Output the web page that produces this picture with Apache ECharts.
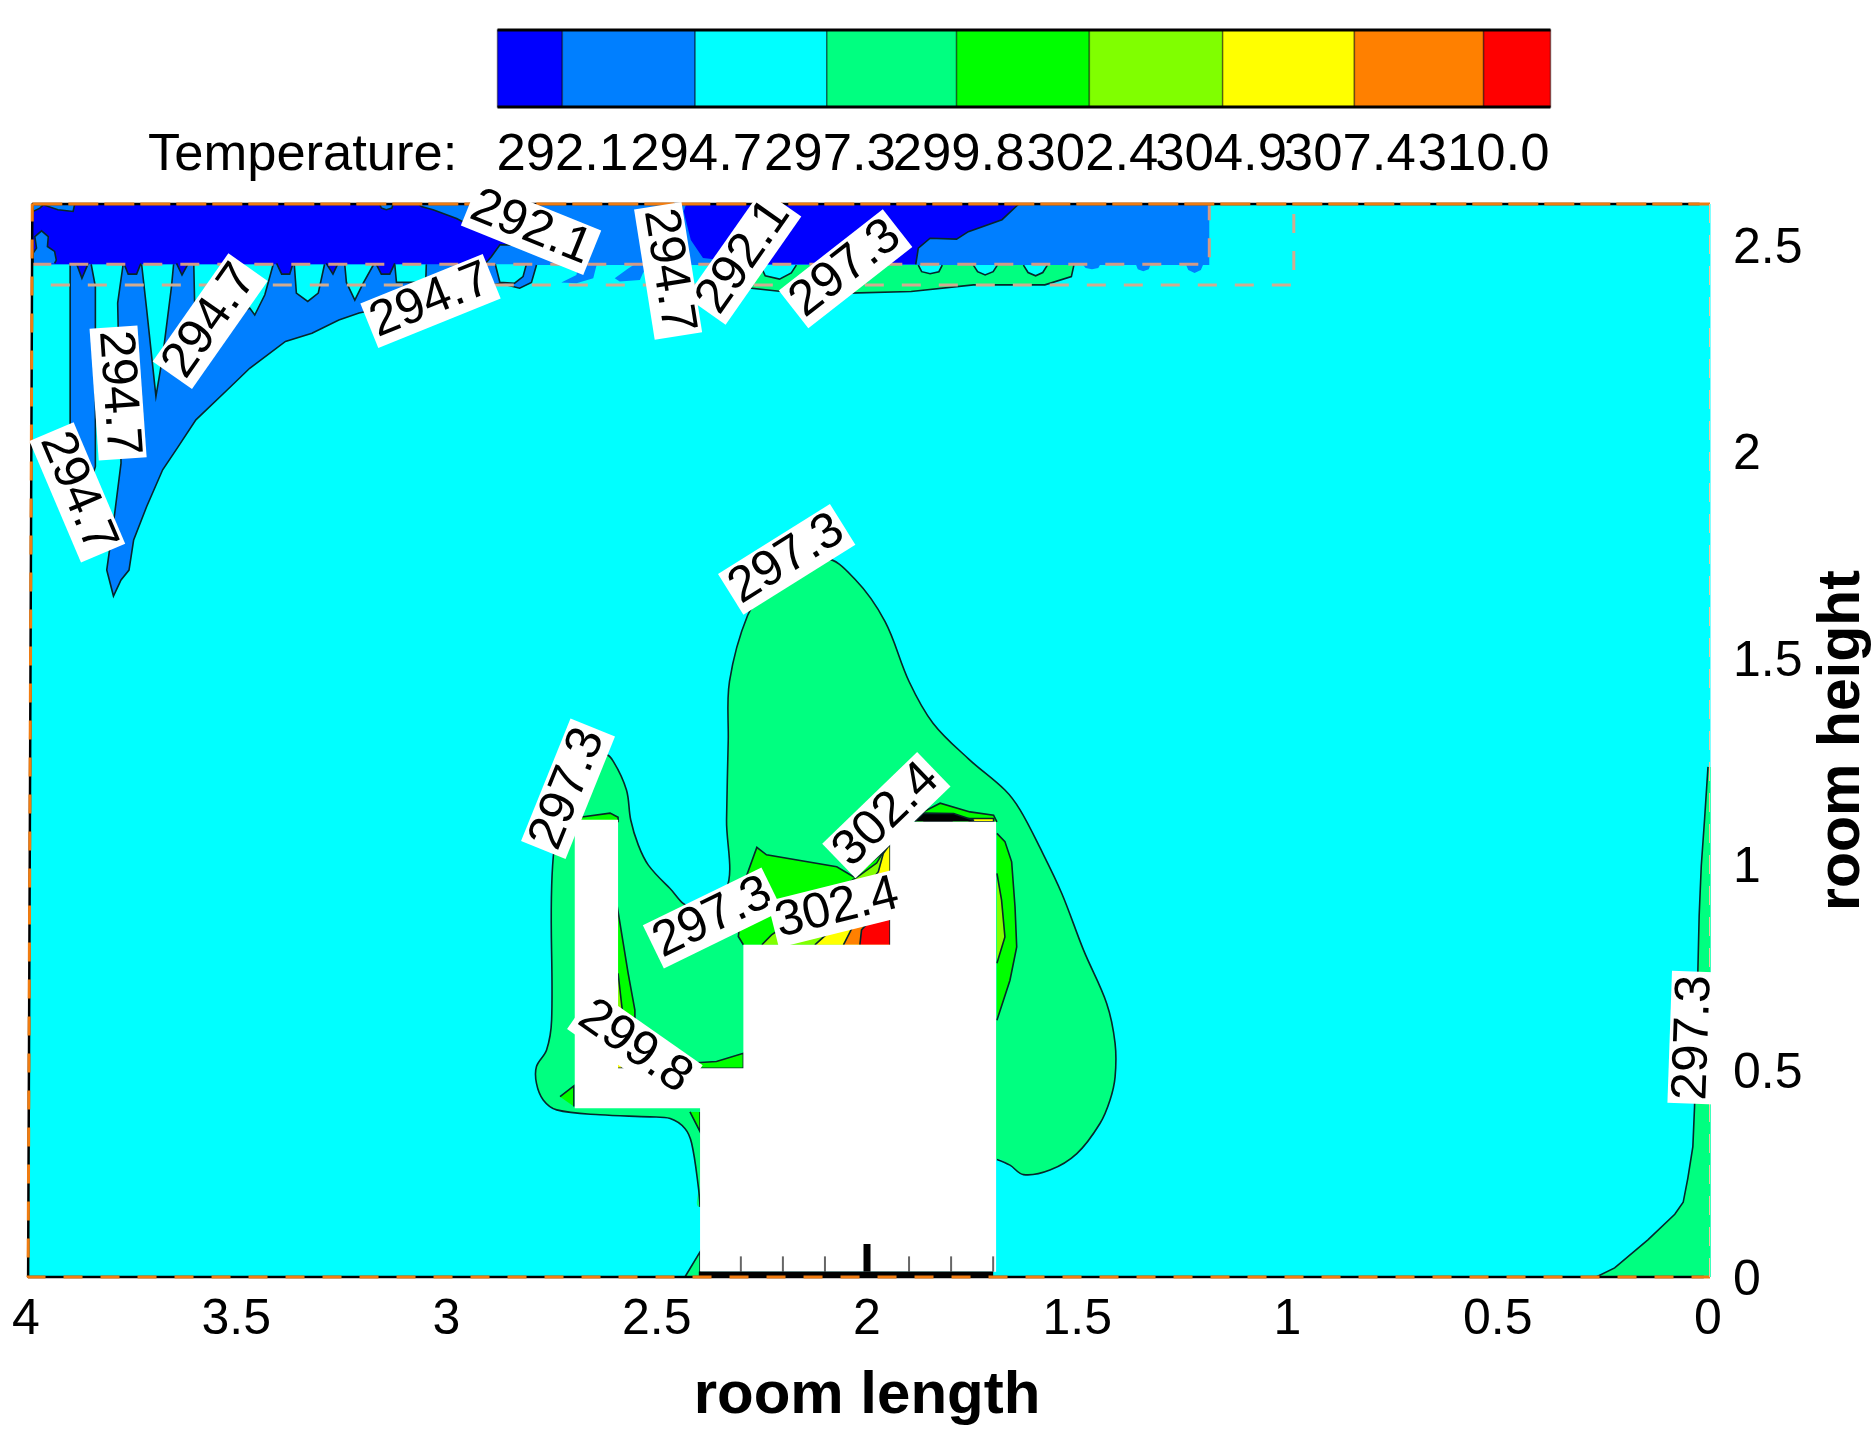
<!DOCTYPE html>
<html>
<head>
<meta charset="utf-8">
<title>room temperature</title>
<script src="https://cdn.jsdelivr.net/npm/echarts@6/dist/echarts.min.js"></script>
<style>
  html, body { margin: 0; padding: 0; background: #fff; }
  #chart { width: 1875px; height: 1446px; }
</style>
</head>
<body>
<div id="chart"></div>
<script>
// axis ticks
var xTicks = [4, 3.5, 3, 2.5, 2, 1.5, 1, 0.5, 0]
var yTicks = [0, 0.5, 1, 1.5, 2, 2.5]
var innerTicks = [2.3, 2.2, 2.1, 1.9, 1.8, 1.7]
var innerMajorTicks = [2]

// colour bar
var levels = [292.1, 294.7, 297.3, 299.8, 302.4, 304.9, 307.4, 310.0]
var bandEdges = [290.84, 292.1, 294.68, 297.24, 299.76, 302.34, 304.93, 307.49, 310.0, 311.3]
var bandColors = ['#0000ff', '#007fff', '#00ffff', '#00ff80', '#00ff00', '#80ff00', '#ffff00', '#ff8000', '#ff0000']

// contour outlines, [room length, room height]
var room = [[-0.006, 0], [-0.006, 2.6], [3.985, 2.6], [3.995, 0]]
var blueCeiling = [[3.985, 2.454], [3.985, 2.6], [1.186, 2.6], [1.186, 2.452], [1.201, 2.452], [1.206, 2.44], [1.221, 2.433], [1.236, 2.44], [1.241, 2.452], [1.326, 2.452], [1.33, 2.442], [1.343, 2.437], [1.356, 2.442], [1.36, 2.452], [1.446, 2.452], [1.45, 2.445], [1.465, 2.442], [1.48, 2.445], [1.486, 2.452], [2.521, 2.452], [2.533, 2.432], [2.54, 2.416], [2.588, 2.412], [2.6, 2.42], [2.568, 2.444], [2.555, 2.452], [2.643, 2.452], [2.651, 2.42], [2.691, 2.408], [2.727, 2.41], [2.691, 2.428], [2.687, 2.452], [2.786, 2.452]]
var blueEdge = [[2.786, 2.452], [2.798, 2.41], [2.826, 2.396], [2.873, 2.408], [3.208, 2.336], [3.256, 2.319], [3.32, 2.287], [3.383, 2.267], [3.468, 2.202], [3.521, 2.15], [3.596, 2.077], [3.638, 2.012], [3.675, 1.956], [3.713, 1.867], [3.744, 1.786], [3.755, 1.713], [3.774, 1.689], [3.792, 1.65], [3.808, 1.713], [3.789, 1.851], [3.774, 1.972], [3.782, 2.36], [3.769, 2.454]]
var blueSpike = [[3.895, 2.454], [3.895, 2.069], [3.861, 1.875], [3.835, 1.964], [3.835, 2.4], [3.845, 2.454]]
var cyanFingers = [
  [[3.725, 2.454], [3.713, 2.344], [3.691, 2.134], [3.675, 2.23], [3.654, 2.4], [3.649, 2.454]],
  [[3.601, 2.454], [3.599, 2.36], [3.564, 2.295], [3.468, 2.348], [3.456, 2.331], [3.432, 2.38], [3.412, 2.454]],
  [[3.362, 2.454], [3.357, 2.384], [3.33, 2.364], [3.305, 2.384], [3.29, 2.454]],
  [[3.242, 2.454], [3.238, 2.41], [3.218, 2.367], [3.198, 2.408], [3.173, 2.454]],
  [[3.123, 2.454], [3.119, 2.41], [3.071, 2.41], [3.05, 2.39], [3.048, 2.454]],
  [[2.884, 2.454], [2.873, 2.41], [2.838, 2.408], [2.818, 2.424], [2.81, 2.454]]
]
var darkLeftEdge = [[3.067, 2.6], [3.06, 2.594], [3.032, 2.586], [2.976, 2.565], [2.92, 2.535], [2.822, 2.501], [2.873, 2.501], [2.893, 2.473], [2.909, 2.454]]
var darkLeftWall = [[3.985, 2.454], [3.985, 2.6]]
var darkRightEdge = [[1.639, 2.6], [1.679, 2.562], [1.759, 2.533], [1.787, 2.515], [1.85, 2.517], [1.878, 2.493], [1.884, 2.454]]
var darkRightWall = [[2.26, 2.454], [2.39, 2.469], [2.419, 2.513], [2.436, 2.582], [2.43, 2.6]]
var darkDrips = [
  [[3.88, 2.456], [3.867, 2.42], [3.852, 2.456]],
  [[3.767, 2.456], [3.757, 2.43], [3.737, 2.43], [3.727, 2.456]],
  [[3.642, 2.456], [3.629, 2.428], [3.614, 2.456]],
  [[3.404, 2.456], [3.392, 2.43], [3.373, 2.43], [3.365, 2.456]],
  [[3.286, 2.456], [3.27, 2.43], [3.258, 2.456]],
  [[3.168, 2.456], [3.155, 2.43], [3.135, 2.43], [3.123, 2.456]]
]
var bluePatches = [
  [[3.986, 2.6], [3.983, 2.582], [3.967, 2.59], [3.959, 2.598], [3.924, 2.586], [3.888, 2.582], [3.884, 2.6]],
  [[3.983, 2.456], [3.983, 2.481], [3.975, 2.493], [3.979, 2.521], [3.963, 2.535], [3.947, 2.521], [3.949, 2.497], [3.932, 2.485], [3.928, 2.464], [3.932, 2.456]],
  [[3.159, 2.6], [3.155, 2.59], [3.143, 2.586], [3.13, 2.59], [3.127, 2.6]]
]
var greenCeiling = [[1.508, 2.452], [1.514, 2.424], [1.577, 2.404], [1.747, 2.404], [1.895, 2.388], [2.043, 2.384], [2.203, 2.388], [2.311, 2.4], [2.271, 2.452]]
var ceilingBubbles = [
  [[2.254, 2.452], [2.242, 2.426], [2.208, 2.418], [2.18, 2.433], [2.168, 2.452]],
  [[1.878, 2.452], [1.87, 2.436], [1.85, 2.431], [1.829, 2.436], [1.821, 2.452]],
  [[1.747, 2.452], [1.737, 2.436], [1.719, 2.428], [1.7, 2.436], [1.69, 2.452]],
  [[1.628, 2.452], [1.617, 2.434], [1.599, 2.426], [1.582, 2.434], [1.571, 2.452]]
]
var greenBlob = [[2.397, 0.17], [2.401, 0.218], [2.417, 0.324], [2.433, 0.36], [2.468, 0.384], [2.516, 0.388], [2.635, 0.393], [2.738, 0.405], [2.77, 0.429], [2.786, 0.469], [2.786, 0.51], [2.762, 0.55], [2.75, 0.623], [2.746, 1.019], [2.7, 1.2], [2.623, 1.265], [2.603, 1.249], [2.572, 1.18], [2.562, 1.108], [2.544, 1.047], [2.52, 0.998], [2.469, 0.942], [2.421, 0.898], [2.335, 0.938], [2.334, 1.108], [2.33, 1.3], [2.327, 1.443], [2.284, 1.603], [2.242, 1.655], [2.1, 1.739], [2.028, 1.69], [1.957, 1.588], [1.9, 1.443], [1.843, 1.342], [1.758, 1.255], [1.672, 1.18], [1.636, 1.132], [1.588, 1.039], [1.537, 0.93], [1.485, 0.792], [1.43, 0.663], [1.41, 0.566], [1.41, 0.485], [1.422, 0.429], [1.446, 0.372], [1.501, 0.299], [1.565, 0.259], [1.628, 0.248], [1.66, 0.271], [1.691, 0.285]]
var greenFoot = [[2.433, 0], [2.397, 0.061], [2.397, 0]]
var greenWall = [[0, 1.236], [0.008, 1.111], [0.016, 0.996], [0.021, 0.876], [0.024, 0.746], [0.032, 0.412], [0.036, 0.316], [0.048, 0.239], [0.059, 0.181], [0.079, 0.152], [0.143, 0.09], [0.222, 0.022], [0.266, 0], [-0.006, 0], [-0.006, 1.236]]
var greenWallEdge = greenWall.slice(0, 13)
var lime0Zones = [
  [[2.294, 0.805], [2.306, 0.825], [2.29, 0.962], [2.262, 1.041], [2.239, 1.023], [2.072, 0.994], [2.032, 0.97], [1.945, 1.043], [1.945, 0.805]],
  [[1.691, 1.075], [1.672, 1.055], [1.656, 1.006], [1.648, 0.897], [1.644, 0.8], [1.66, 0.719], [1.691, 0.622]],
  [[1.886, 1.103], [1.866, 1.127], [1.826, 1.148], [1.755, 1.127], [1.699, 1.119], [1.691, 1.103]],
  [[2.683, 1.114], [2.611, 1.124], [2.592, 1.114], [2.592, 1.104], [2.683, 1.104]],
  [[2.594, 0.898], [2.568, 0.736], [2.552, 0.647], [2.552, 0.542], [2.592, 0.542]],
  [[2.425, 0.518], [2.358, 0.522], [2.294, 0.542], [2.294, 0.506], [2.425, 0.506]],
  [[2.73, 0.437], [2.697, 0.463], [2.697, 0.413]],
  [[2.421, 0.4], [2.397, 0.352], [2.397, 0.4]]
]
var limeZones = [
  [[2.25, 0.805], [2.227, 0.829], [2.017, 0.974], [1.977, 1.003], [1.949, 1.051], [1.945, 1.051], [1.945, 0.805]],
  [[1.691, 0.978], [1.68, 0.913], [1.672, 0.824], [1.691, 0.76]],
  [[2.592, 0.736], [2.582, 0.647], [2.592, 0.647]],
  [[2.592, 0.53], [2.568, 0.506], [2.592, 0.506]]
]
var yellowZones = [
  [[2.124, 0.805], [2.076, 0.849], [1.973, 0.982], [1.961, 1.027], [1.945, 1.049], [1.945, 0.805]],
  [[1.759, 1.111], [1.699, 1.111], [1.699, 1.103], [1.759, 1.103]],
  [[2.592, 0.524], [2.58, 0.506], [2.592, 0.506]]
]
var orangeZones = [[[2.056, 0.805], [2.036, 0.845], [2.005, 0.872], [1.945, 0.93], [1.945, 0.805]]]
var redZones = [
  [[2.017, 0.805], [2.013, 0.841], [1.985, 0.873], [1.945, 0.898], [1.945, 0.805]],
  [[1.866, 1.108], [1.798, 1.108], [1.798, 1.103], [1.866, 1.103]]
]
var denseBand = [[1.886, 1.104], [1.866, 1.124], [1.794, 1.123], [1.747, 1.107], [1.747, 1.104]]
var obstacle = [[2.695, 1.108], [2.592, 1.108], [2.592, 0.506], [2.294, 0.506], [2.294, 0.805], [1.945, 0.805], [1.945, 1.103], [1.693, 1.103], [1.693, 0.013], [2.397, 0.013], [2.397, 0.409], [2.695, 0.409]]

// dashed outlines of the ceiling boxes
var ceilingBoxA = [[3.985, 2.454], [1.186, 2.454], [1.186, 2.6]]
var ceilingBoxB = [[3.941, 2.404], [0.985, 2.404], [0.985, 2.6]]
var frameSolid = [[0.01, 0], [3.995, 0], [3.985, 2.6], [0.02, 2.6]]
var frameLeftBottom = [[-0.006, 0], [3.995, 0], [3.985, 2.6]]
var frameTop = [[3.985, 2.6], [-0.006, 2.6]]
var frameRight = [[-0.006, 2.6], [-0.006, 0]]
var obstacleBase = [[2.4, 0.006], [1.7, 0.006]]

// contour labels
var labelText = ['294.7', '294.7', '294.7', '294.7', '292.1', '294.7', '292.1', '297.3', '297.3', '297.3', '297.3', '302.4', '302.4', '299.8', '297.3']
var labelX = [3.878, 3.781, 3.562, 3.038, 2.799, 2.473, 2.293, 2.051, 2.191, 2.711, 2.367, 2.071, 1.954, 2.552, 0.034]
var labelY = [1.901, 2.142, 2.316, 2.365, 2.542, 2.438, 2.472, 2.443, 1.739, 1.183, 0.87, 0.893, 1.119, 0.557, 0.58]
var labelAngle = [-67, -86, 55, 22, -22, -81, 55, 38, 32, 68, 26, 14, 44, -35, 88]

var FONT = '"Liberation Sans", Arial, sans-serif'

function zone(points, color, edge, smooth) {
  return { points: points, color: color, edge: edge === undefined ? points : edge, smooth: smooth || 0 }
}

var zones = [zone(room, '#00ffff', [])]
zones.push(zone(blueEdge.concat(darkLeftWall.slice(0, 1), blueCeiling), '#007fff', blueEdge))
zones.push(zone(blueSpike, '#007fff'))
cyanFingers.forEach(function(p) { zones.push(zone(p, '#00ffff')) })
zones.push(zone(darkLeftEdge.concat(darkLeftWall), '#0000ff', darkLeftEdge))
zones.push(zone(darkRightEdge.concat(darkRightWall), '#0000ff', darkRightEdge))
darkDrips.forEach(function(p) { zones.push(zone(p, '#0000ff')) })
bluePatches.forEach(function(p) { zones.push(zone(p, '#007fff')) })
zones.push(zone(greenCeiling, '#00ff80'))
ceilingBubbles.forEach(function(p) { zones.push(zone(p, '#00ffff')) })
zones.push(zone(greenBlob, '#00ff80', greenBlob, 0.35))
zones.push(zone(greenFoot, '#00ff80'))
zones.push(zone(greenWall, '#00ff80', greenWallEdge))
lime0Zones.forEach(function(p) { zones.push(zone(p, '#00ff00')) })
limeZones.forEach(function(p) { zones.push(zone(p, '#80ff00')) })
yellowZones.forEach(function(p) { zones.push(zone(p, '#ffff00')) })
orangeZones.forEach(function(p) { zones.push(zone(p, '#ff8000')) })
redZones.forEach(function(p) { zones.push(zone(p, '#ff0000')) })
zones.push(zone(denseBand, '#000000'))

function toPixels(api, points) {
  return points.map(function(p) { return api.coord(p) })
}

function renderZone(params, api) {
  var z = zones[params.dataIndex]
  var children = [{
    type: 'polygon',
    shape: { points: toPixels(api, z.points), smooth: z.smooth },
    style: { fill: z.color }
  }]
  if (z.edge.length) {
    children.push({
      type: 'polyline',
      shape: { points: toPixels(api, z.edge), smooth: z.smooth },
      style: { fill: null, stroke: '#06262a', lineWidth: 1.6 }
    })
  }
  return { type: 'group', children: children }
}

function renderObstacle(params, api) {
  var children = [{
    type: 'polygon',
    shape: { points: toPixels(api, obstacle) },
    style: { fill: '#fff' }
  }]
  innerTicks.forEach(function(x) {
    children.push({
      type: 'polyline',
      shape: { points: toPixels(api, [[x, 0.013], [x, 0.05]]) },
      style: { fill: null, stroke: '#666', lineWidth: 2 }
    })
  })
  innerMajorTicks.forEach(function(x) {
    children.push({
      type: 'polyline',
      shape: { points: toPixels(api, [[x, 0.013], [x, 0.08]]) },
      style: { fill: null, stroke: '#000', lineWidth: 7 }
    })
  })
  children.push({
    type: 'polyline',
    shape: { points: toPixels(api, obstacleBase) },
    style: { fill: null, stroke: '#000', lineWidth: 6 }
  })
  return { type: 'group', children: children }
}

function renderLabel(params, api) {
  var i = params.dataIndex
  var p = api.coord([labelX[i], labelY[i]])
  return {
    type: 'group',
    x: p[0],
    y: p[1],
    rotation: labelAngle[i] * Math.PI / 180,
    children: [
      { type: 'rect', shape: { x: -66, y: -24, width: 132, height: 48 }, style: { fill: '#fff' } },
      {
        type: 'text',
        style: {
          text: labelText[i], x: 0, y: 0,
          textAlign: 'center', textVerticalAlign: 'middle',
          fontSize: 50, fontFamily: FONT, fill: '#000'
        }
      }
    ]
  }
}

function renderBand(params, api) {
  var i = params.dataIndex
  var a = api.coord([bandEdges[i], 1])
  var b = api.coord([bandEdges[i + 1], 0])
  return {
    type: 'rect',
    shape: { x: a[0], y: a[1], width: b[0] - a[0], height: b[1] - a[1] },
    style: { fill: bandColors[i], stroke: 'rgba(0,0,0,0.45)', lineWidth: 1.5 }
  }
}

function outline(points, color, width, dash) {
  return {
    type: 'line',
    data: points,
    symbol: 'none',
    clip: false,
    silent: true,
    z: 4,
    lineStyle: { color: color, width: width, type: dash || 'solid' }
  }
}

var chart = echarts.init(document.getElementById('chart'))
chart.setOption({
  animation: false,
  grid: [
    { left: 26, top: 204, width: 1682, height: 1073, outerBoundsMode: 'none' },
    { left: 497.5, top: 30, width: 1053, height: 77, outerBoundsMode: 'none' }
  ],
  xAxis: [
    {
      type: 'value', min: 0, max: 4, inverse: true, position: 'bottom',
      splitLine: { show: false }, axisLine: { show: false }, axisTick: { show: false },
      axisLabel: { customValues: xTicks, margin: 18, fontSize: 50, fontFamily: FONT, color: '#000' },
      name: 'room length', nameLocation: 'middle', nameGap: 89,
      nameTextStyle: { fontSize: 60, fontWeight: 'bold', fontFamily: FONT, color: '#000' }
    },
    {
      type: 'value', gridIndex: 1, min: 290.84, max: 311.3,
      splitLine: { show: false }, axisTick: { show: false },
      axisLine: { show: false },
      axisLabel: {
        customValues: levels, margin: 22, fontSize: 52.7, fontFamily: FONT, color: '#000',
        formatter: function(v) { return v.toFixed(1) }
      }
    }
  ],
  yAxis: [
    {
      type: 'value', min: 0, max: 2.6, position: 'right',
      splitLine: { show: false }, axisLine: { show: false }, axisTick: { show: false },
      axisLabel: {
        customValues: yTicks, margin: 25,
        formatter: function(v) { return '{t|' + v + '}' },
        rich: { t: { fontSize: 50, fontFamily: FONT, color: '#000', padding: [8, 0, 0, 0] } }
      },
      name: 'room height', nameLocation: 'middle', nameGap: 92, nameRotate: 90,
      nameTextStyle: { fontSize: 59, fontWeight: 'bold', fontFamily: FONT, color: '#000' }
    },
    { type: 'value', gridIndex: 1, min: 0, max: 1, show: false }
  ],
  graphic: [{
    type: 'text', left: 148, top: 129,
    style: { text: 'Temperature:', fontSize: 52.5, fontFamily: FONT, fill: '#000' }
  }],
  series: [
    { type: 'custom', z: 2, silent: true, renderItem: renderZone, data: zones.map(function(z, i) { return [i, 0] }) },
    { type: 'custom', z: 3, silent: true, renderItem: renderObstacle, data: [[0, 0]] },
    outline(ceilingBoxA, '#d49a86', 3, [19, 18]),
    outline(ceilingBoxB, '#d2ab90', 3, [19, 18]),
    outline(frameSolid, '#000', 2.5),
    outline(frameLeftBottom, '#f07c10', 3, [19, 18]),
    outline(frameTop, '#f07c10', 3, [30, 6]),
    outline(frameRight, '#f7c49c', 3, [19, 12]),
    { type: 'custom', z: 5, silent: true, renderItem: renderLabel, data: labelText.map(function(t, i) { return [i, 0] }) },
    {
      type: 'custom', xAxisIndex: 1, yAxisIndex: 1, silent: true, renderItem: renderBand,
      data: bandColors.map(function(c, i) { return [bandEdges[i], 0] })
    },
    Object.assign(outline([[290.84, 1], [311.3, 1]], '#000', 3), { xAxisIndex: 1, yAxisIndex: 1 }),
    Object.assign(outline([[290.84, 0], [311.3, 0]], '#000', 3), { xAxisIndex: 1, yAxisIndex: 1 })
  ]
})
</script>
</body>
</html>
